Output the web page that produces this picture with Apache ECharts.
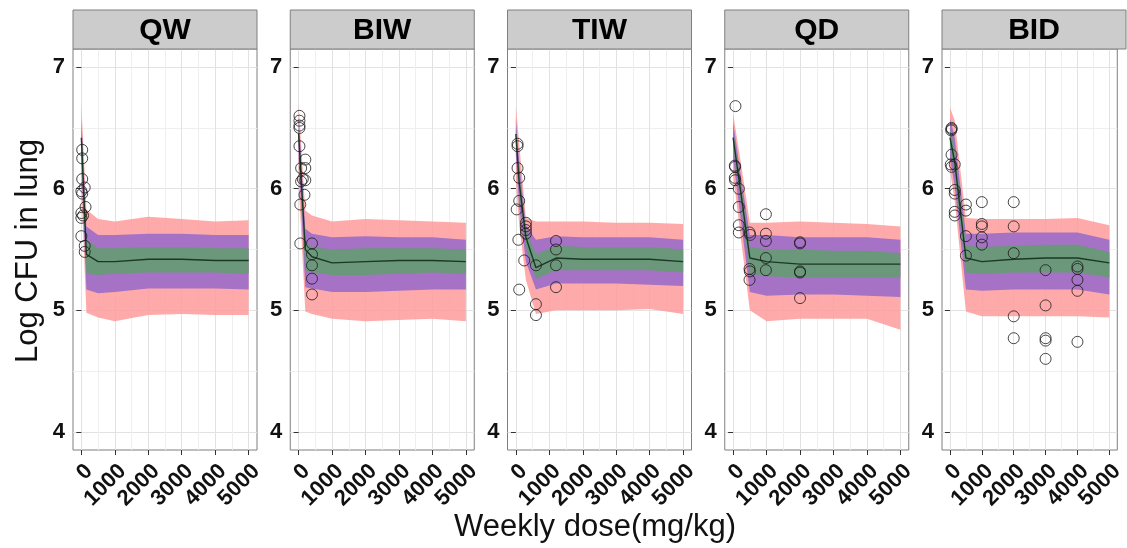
<!DOCTYPE html>
<html>
<head>
<meta charset="utf-8">
<script src="https://cdn.jsdelivr.net/npm/echarts@6/dist/echarts.min.js"></script>
<style>
  html, body { margin: 0; padding: 0; background: #ffffff; }
  #chart { width: 1127px; height: 548px; }
</style>
</head>
<body>
<div id="chart"></div>
<script>
// Dosing regimens (one facet each) and shared axis ticks
const regimens = ['QW', 'BIW', 'TIW', 'QD', 'BID'];
const doseTicks = [0, 1000, 2000, 3000, 4000, 5000];
const doseMinorTicks = [500, 1500, 2500, 3500, 4500];
const cfuTicks = [4, 5, 6, 7];
const cfuMinorTicks = [4.5, 5.5, 6.5];

// QW: simulated median, prediction bands and observed lung CFU
const qwDose = [0, 150, 500, 1000, 2000, 3000, 4000, 5000];
const qwMedian = [6.42, 5.46, 5.40, 5.40, 5.42, 5.42, 5.41, 5.41];
const qwOuterLo = [6.00, 4.98, 4.94, 4.91, 4.96, 4.97, 4.96, 4.96];
const qwOuterHi = [6.70, 5.83, 5.75, 5.73, 5.77, 5.75, 5.73, 5.74];
const qwMidLo = [6.18, 5.17, 5.14, 5.15, 5.18, 5.18, 5.18, 5.17];
const qwMidHi = [6.58, 5.69, 5.62, 5.62, 5.63, 5.63, 5.62, 5.62];
const qwInnerLo = [6.33, 5.30, 5.29, 5.30, 5.31, 5.31, 5.31, 5.30];
const qwInnerHi = [6.50, 5.58, 5.51, 5.51, 5.52, 5.52, 5.51, 5.51];
const qwObserved = [[25, 6.32], [25, 6.25], [25, 6.08], [100, 6.01], [0, 5.98], [25, 5.96], [125, 5.85],
  [0, 5.80], [50, 5.78], [0, 5.76], [0, 5.61], [100, 5.53], [100, 5.48]];

// BIW
const biwDose = [0, 200, 400, 1000, 2000, 3000, 4000, 5000];
const biwMedian = [6.45, 5.50, 5.44, 5.39, 5.40, 5.41, 5.41, 5.40];
const biwOuterLo = [6.05, 4.99, 4.97, 4.93, 4.91, 4.92, 4.93, 4.91];
const biwOuterHi = [6.70, 5.82, 5.78, 5.73, 5.75, 5.74, 5.73, 5.72];
const biwMidLo = [6.25, 5.19, 5.18, 5.15, 5.15, 5.16, 5.17, 5.17];
const biwMidHi = [6.60, 5.67, 5.63, 5.60, 5.61, 5.60, 5.60, 5.58];
const biwInnerLo = [6.38, 5.33, 5.31, 5.29, 5.29, 5.30, 5.31, 5.30];
const biwInnerHi = [6.52, 5.56, 5.52, 5.50, 5.51, 5.51, 5.51, 5.50];
const biwObserved = [[25, 6.60], [25, 6.56], [25, 6.52], [25, 6.50], [25, 6.35], [200, 6.24], [75, 6.17],
  [200, 6.17], [125, 6.08], [200, 6.07], [75, 6.06], [175, 5.95], [50, 5.87], [50, 5.55], [400, 5.55],
  [400, 5.46], [400, 5.37], [400, 5.26], [400, 5.13]];

// TIW
const tiwDose = [0, 100, 300, 600, 1200, 2000, 3000, 4000, 5000];
const tiwMedian = [6.45, 6.05, 5.60, 5.35, 5.43, 5.42, 5.42, 5.42, 5.40];
const tiwOuterLo = [6.05, 5.70, 5.25, 4.97, 5.00, 5.00, 5.00, 5.01, 4.97];
const tiwOuterHi = [6.68, 6.37, 5.76, 5.73, 5.73, 5.73, 5.72, 5.72, 5.71];
const tiwMidLo = [6.28, 5.85, 5.40, 5.17, 5.22, 5.22, 5.22, 5.21, 5.20];
const tiwMidHi = [6.58, 6.22, 5.70, 5.58, 5.61, 5.60, 5.60, 5.60, 5.58];
const tiwInnerLo = [6.38, 5.97, 5.52, 5.26, 5.33, 5.33, 5.33, 5.33, 5.31];
const tiwInnerHi = [6.50, 6.12, 5.66, 5.46, 5.53, 5.52, 5.52, 5.52, 5.50];
const tiwObserved = [[50, 6.37], [50, 6.35], [50, 6.17], [100, 6.09], [100, 5.90], [25, 5.83], [300, 5.72],
  [300, 5.69], [300, 5.66], [300, 5.63], [75, 5.58], [250, 5.41], [600, 5.37], [1200, 5.57], [1200, 5.50],
  [1200, 5.37], [1200, 5.19], [100, 5.17], [600, 5.05], [600, 4.96]];

// QD
const qdDose = [0, 250, 500, 1000, 2000, 3000, 4000, 5000];
const qdMedian = [6.42, 5.93, 5.43, 5.40, 5.38, 5.38, 5.38, 5.38];
const qdOuterLo = [6.12, 5.55, 5.00, 4.91, 4.93, 4.93, 4.93, 4.84];
const qdOuterHi = [6.62, 6.18, 5.72, 5.72, 5.73, 5.72, 5.71, 5.69];
const qdMidLo = [6.25, 5.70, 5.15, 5.12, 5.13, 5.13, 5.12, 5.11];
const qdMidHi = [6.55, 6.07, 5.62, 5.62, 5.60, 5.60, 5.60, 5.58];
const qdInnerLo = [6.35, 5.84, 5.30, 5.28, 5.27, 5.27, 5.27, 5.27];
const qdInnerHi = [6.48, 6.00, 5.52, 5.50, 5.50, 5.49, 5.49, 5.47];
const qdObserved = [[70, 6.68], [50, 6.19], [60, 6.18], [50, 6.09], [60, 6.07], [170, 6.00], [170, 5.85],
  [170, 5.70], [170, 5.64], [490, 5.64], [510, 5.62], [490, 5.34], [500, 5.32], [490, 5.25], [980, 5.79],
  [980, 5.63], [980, 5.57], [980, 5.43], [980, 5.33], [2000, 5.56], [2000, 5.55], [2000, 5.32],
  [2000, 5.31], [2000, 5.10]];

// BID
const bidDose = [0, 150, 500, 1000, 2000, 3000, 4000, 5000];
const bidMedian = [6.42, 6.22, 5.43, 5.40, 5.42, 5.43, 5.43, 5.39];
const bidOuterLo = [6.15, 5.90, 4.99, 4.95, 4.95, 4.95, 4.95, 4.94];
const bidOuterHi = [6.67, 6.56, 5.76, 5.75, 5.75, 5.75, 5.76, 5.70];
const bidMidLo = [6.25, 6.02, 5.17, 5.16, 5.17, 5.17, 5.17, 5.13];
const bidMidHi = [6.58, 6.42, 5.63, 5.63, 5.64, 5.64, 5.64, 5.58];
const bidInnerLo = [6.35, 6.12, 5.31, 5.30, 5.31, 5.31, 5.31, 5.27];
const bidInnerHi = [6.50, 6.32, 5.53, 5.52, 5.53, 5.54, 5.54, 5.48];
const bidObserved = [[50, 6.50], [50, 6.49], [40, 6.48], [50, 6.28], [25, 6.20], [150, 6.20], [50, 6.18],
  [150, 5.99], [150, 5.96], [150, 5.81], [150, 5.78], [500, 5.87], [500, 5.82], [500, 5.61], [500, 5.45],
  [1000, 5.89], [1000, 5.71], [1000, 5.69], [1000, 5.60], [1000, 5.54], [2000, 5.89], [2000, 5.69],
  [2000, 5.47], [2000, 4.95], [2000, 4.77], [3000, 5.33], [3000, 5.04], [3000, 4.77], [3000, 4.75],
  [3000, 4.60], [4000, 5.36], [4000, 5.34], [4000, 5.25], [4000, 5.16], [4000, 4.74]];

const panels = [
  { dose: qwDose, median: qwMedian, outer: [qwOuterLo, qwOuterHi], mid: [qwMidLo, qwMidHi], inner: [qwInnerLo, qwInnerHi], obs: qwObserved },
  { dose: biwDose, median: biwMedian, outer: [biwOuterLo, biwOuterHi], mid: [biwMidLo, biwMidHi], inner: [biwInnerLo, biwInnerHi], obs: biwObserved },
  { dose: tiwDose, median: tiwMedian, outer: [tiwOuterLo, tiwOuterHi], mid: [tiwMidLo, tiwMidHi], inner: [tiwInnerLo, tiwInnerHi], obs: tiwObserved },
  { dose: qdDose, median: qdMedian, outer: [qdOuterLo, qdOuterHi], mid: [qdMidLo, qdMidHi], inner: [qdInnerLo, qdInnerHi], obs: qdObserved },
  { dose: bidDose, median: bidMedian, outer: [bidOuterLo, bidOuterHi], mid: [bidMidLo, bidMidHi], inner: [bidInnerLo, bidInnerHi], obs: bidObserved }
];

// Layout of the facet row
const FONT = '"Liberation Sans", Arial, sans-serif';
const PANEL_TOP = 49;
const PANEL_H = 401;
const PANEL_W = 184;
const PANEL_STEP = 217.25;
const PANEL_LEFT0 = 73;
const STRIP_TOP = 10;
const DOSE_MIN = -250, DOSE_MAX = 5250;
const CFU_MIN = 3.85, CFU_MAX = 7.15;

const GRID_MAJOR = '#E2E2E2';
const GRID_MINOR = '#EFEFEF';
const OUTER_FILL = '#FF9C9C';
const MID_FILL = '#A672C6';
const INNER_FILL = '#6B977B';
const MEDIAN_COLOR = '#1B3825';

const grids = [], xAxes = [], yAxes = [], series = [], graphics = [];

// Prediction band drawn as one polygon: lower bound left-to-right, upper bound back
function bandSeries(i, dose, bounds, fill, opacity) {
  const [lo, hi] = bounds;
  const rows = dose.map((d, k) => [d, lo[k], hi[k]]);
  return {
    type: 'custom',
    coordinateSystem: 'cartesian2d',
    xAxisIndex: 2 * i,
    yAxisIndex: 2 * i,
    silent: true,
    z: 2,
    data: rows,
    encode: { x: 0, y: [1, 2] },
    renderItem: function (params, api) {
      if (params.dataIndex !== 0) return null;
      const pts = [];
      rows.forEach(r => pts.push(api.coord([r[0], r[1]])));
      for (let k = rows.length - 1; k >= 0; k--) pts.push(api.coord([rows[k][0], rows[k][2]]));
      return {
        type: 'polygon',
        shape: { points: pts },
        style: { fill: fill, opacity: opacity, stroke: null }
      };
    }
  };
}

panels.forEach((p, i) => {
  const left = PANEL_LEFT0 + PANEL_STEP * i;
  grids.push({
    left: left, top: PANEL_TOP, width: PANEL_W, height: PANEL_H,
    show: true, backgroundColor: '#ffffff', borderColor: '#7F7F7F', borderWidth: 1,
    containLabel: false
  });

  // main dose axis with labels, and a silent companion for the minor grid
  xAxes.push({
    type: 'value', gridIndex: i, position: 'bottom', min: DOSE_MIN, max: DOSE_MAX,
    axisLine: { show: false },
    axisTick: { show: true, customValues: doseTicks, length: 5, lineStyle: { color: '#333', width: 1 } },
    axisLabel: { customValues: doseTicks, rotate: 45, margin: 10, fontSize: 22, fontWeight: 'bold',
      color: '#111', fontFamily: FONT, verticalAlign: 'top', align: 'right',
      formatter: v => String(v) },
    splitLine: { show: true, customValues: doseTicks, lineStyle: { color: GRID_MAJOR, width: 1 } }
  });
  xAxes.push({
    type: 'value', gridIndex: i, position: 'top', min: DOSE_MIN, max: DOSE_MAX,
    axisLine: { show: false },
    axisTick: { show: false, customValues: doseMinorTicks },
    axisLabel: { show: false, customValues: doseMinorTicks },
    splitLine: { show: true, customValues: doseMinorTicks, lineStyle: { color: GRID_MINOR, width: 1 } }
  });
  yAxes.push({
    type: 'value', gridIndex: i, position: 'left', min: CFU_MIN, max: CFU_MAX,
    axisLine: { show: false },
    axisTick: { show: true, customValues: cfuTicks, length: 5, lineStyle: { color: '#333', width: 1 } },
    axisLabel: { customValues: cfuTicks, margin: 8, fontSize: 22, fontWeight: 'bold', color: '#111',
      fontFamily: FONT },
    splitLine: { show: true, customValues: cfuTicks, lineStyle: { color: GRID_MAJOR, width: 1 } }
  });
  yAxes.push({
    type: 'value', gridIndex: i, position: 'right', min: CFU_MIN, max: CFU_MAX,
    axisLine: { show: false },
    axisTick: { show: false, customValues: cfuMinorTicks },
    axisLabel: { show: false, customValues: cfuMinorTicks },
    splitLine: { show: true, customValues: cfuMinorTicks, lineStyle: { color: GRID_MINOR, width: 1 } }
  });

  series.push(bandSeries(i, p.dose, p.outer, OUTER_FILL, 0.86));
  series.push(bandSeries(i, p.dose, p.mid, MID_FILL, 1));
  series.push(bandSeries(i, p.dose, p.inner, INNER_FILL, 1));
  series.push({
    type: 'line', xAxisIndex: 2 * i, yAxisIndex: 2 * i, z: 3, silent: true,
    data: p.dose.map((d, k) => [d, p.median[k]]),
    symbol: 'none', lineStyle: { color: MEDIAN_COLOR, width: 1.4 }
  });
  series.push({
    type: 'scatter', xAxisIndex: 2 * i, yAxisIndex: 2 * i, z: 4, silent: true,
    data: p.obs, symbol: 'circle', symbolSize: 11,
    itemStyle: { color: 'rgba(0,0,0,0)', borderColor: '#1A1A1A', borderWidth: 1 }
  });

  // facet strip
  graphics.push({
    type: 'rect', silent: true, z: 10,
    shape: { x: left, y: STRIP_TOP, width: PANEL_W, height: PANEL_TOP - STRIP_TOP },
    style: { fill: '#CCCCCC', stroke: '#7F7F7F', lineWidth: 1 }
  });
  graphics.push({
    type: 'text', silent: true, z: 11,
    style: { text: regimens[i], x: left + PANEL_W / 2, y: (STRIP_TOP + PANEL_TOP) / 2 + 1,
      align: 'center', verticalAlign: 'middle', font: 'bold 30px ' + FONT, fill: '#000' }
  });
});

// axis titles
graphics.push({
  type: 'text', silent: true,
  style: { text: 'Log CFU in lung', x: 0, y: 0, align: 'center', verticalAlign: 'middle',
    font: '31px ' + FONT, fill: '#111' },
  x: 28, y: 251, rotation: Math.PI / 2
});
graphics.push({
  type: 'text', silent: true,
  style: { text: 'Weekly dose(mg/kg)', x: 595, y: 527, align: 'center', verticalAlign: 'middle',
    font: '31px ' + FONT, fill: '#111' }
});

const chart = echarts.init(document.getElementById('chart'), null, { renderer: 'canvas' });
chart.setOption({
  animation: false,
  backgroundColor: '#ffffff',
  grid: grids,
  xAxis: xAxes,
  yAxis: yAxes,
  series: series,
  graphic: graphics
});
</script>
</body>
</html>
